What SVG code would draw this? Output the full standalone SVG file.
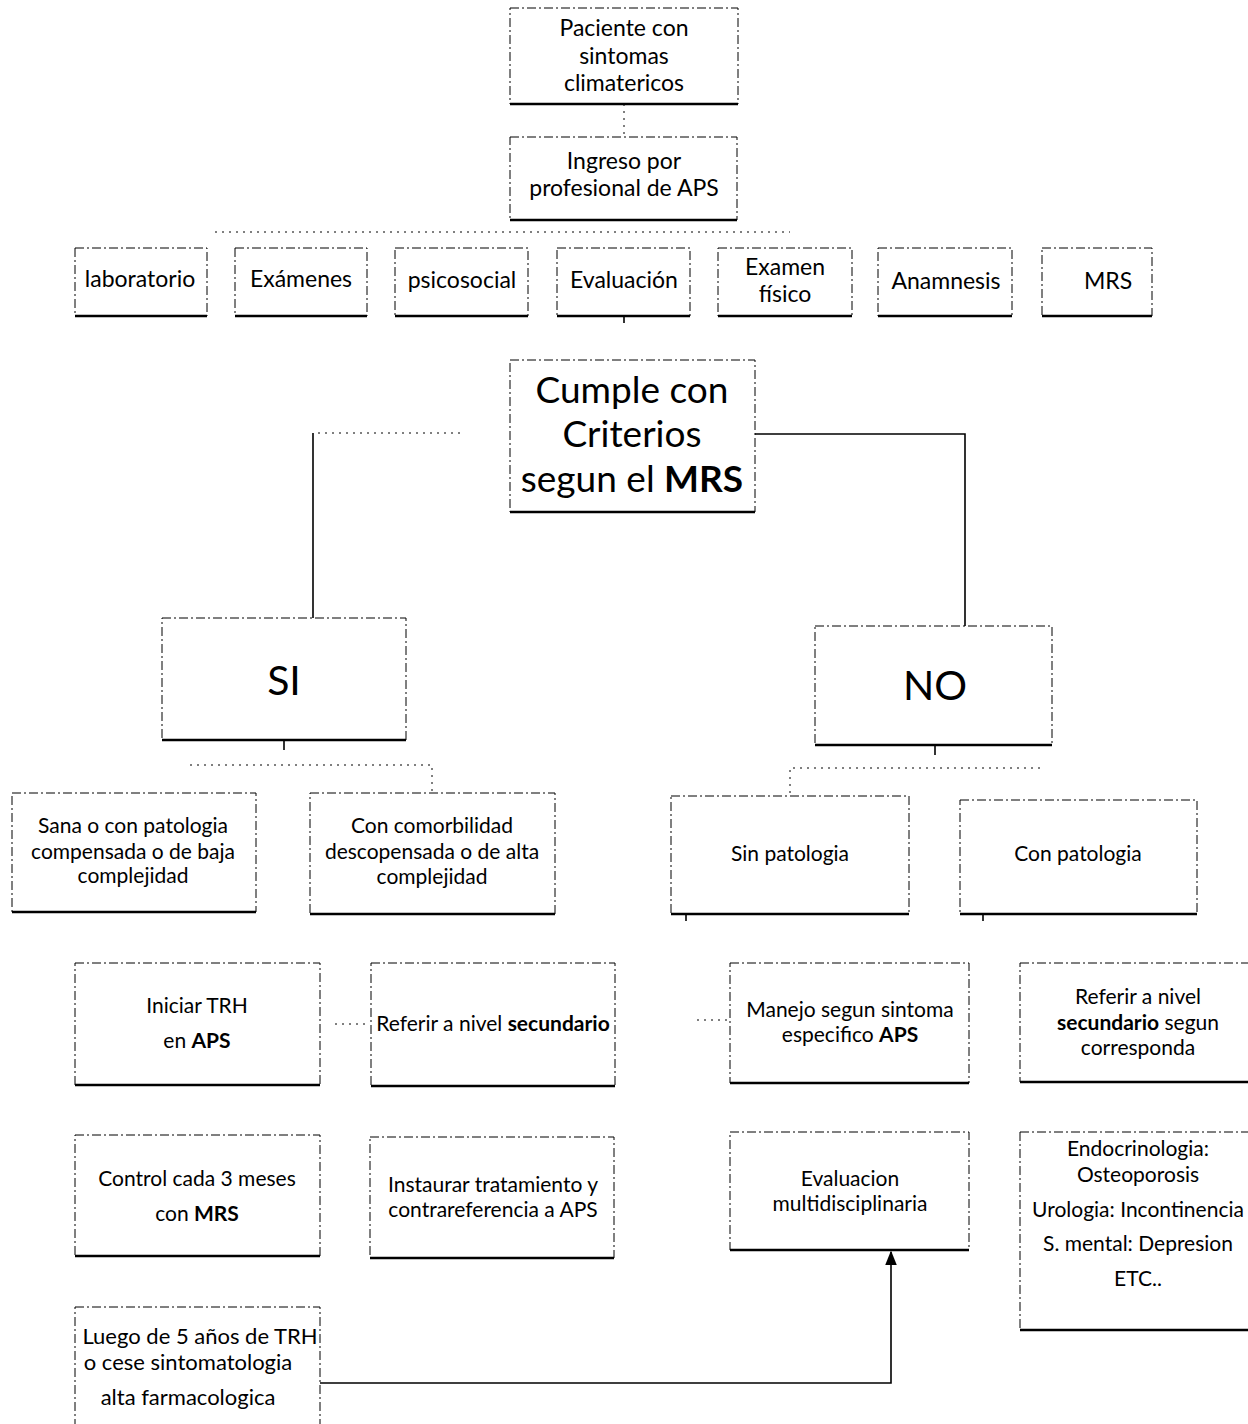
<svg xmlns="http://www.w3.org/2000/svg" width="1248" height="1424" viewBox="0 0 1248 1424">
  <style>
    text { font-family: Lato, "Liberation Sans", sans-serif; fill: #000; text-anchor: middle; }
    .box { fill: #fff; stroke: #000; stroke-width: 1; stroke-dasharray: 9 3 2 3; }
    .base { stroke: #000; stroke-width: 2.5; }
    .t23 { font-size: 23px; }
    .t21 { font-size: 21px; }
    .t20 { font-size: 21px; }
    .t22 { font-size: 22px; }
    .big { font-size: 37px; }
    .huge { font-size: 41px; }
    .b { font-weight: bold; }
    .solid { fill: none; stroke: #000; stroke-width: 1.6; }
    .dots { fill: none; stroke: #000; stroke-width: 1; stroke-dasharray: 2 5; }
  </style>
  <defs>
    <marker id="arrow" viewBox="0 0 10 10" refX="9" refY="5" markerWidth="9" markerHeight="9" orient="auto">
      <path d="M0,1 L10,5 L0,9 Z" fill="#000"/>
    </marker>
  </defs>

  <rect width="1248" height="1424" fill="#fff"/>

  <!-- connectors -->
  <g id="connectors">
    <line class="dots" x1="624" y1="104" x2="624" y2="137"/>
    <line class="dots" x1="215" y1="232" x2="790" y2="232"/>
    <line class="solid" x1="624" y1="316" x2="624" y2="323"/>
    <line class="dots" x1="318" y1="433" x2="460" y2="433"/>
    <path class="solid" d="M313,433 V620"/>
    <path class="solid" d="M755,434 H965 V627"/>
    <line class="solid" x1="284" y1="740" x2="284" y2="750"/>
    <path class="dots" d="M190,765 H432 V793"/>
    <line class="solid" x1="935" y1="745" x2="935" y2="755"/>
    <path class="dots" d="M1040,768 H790 V796"/>
    <line class="solid" x1="686" y1="914" x2="686" y2="921"/>
    <line class="solid" x1="983" y1="914" x2="983" y2="921"/>
    <line class="dots" x1="335" y1="1024" x2="370" y2="1024"/>
    <line class="dots" x1="697" y1="1020" x2="728" y2="1020"/>
    <path class="solid" d="M320,1383 H891 V1252" marker-end="url(#arrow)"/>
  </g>

  <!-- top -->
  <g id="paciente">
    <rect class="box" x="510" y="8" width="228" height="96"/>
    <line class="base" x1="510" y1="104" x2="738" y2="104"/>
    <text class="t23" x="624" y="36">Paciente con</text>
    <text class="t23" x="624" y="64">sintomas</text>
    <text class="t23" x="624" y="91">climatericos</text>
  </g>

  <g id="ingreso">
    <rect class="box" x="510" y="137" width="227" height="83"/>
    <line class="base" x1="510" y1="220" x2="737" y2="220"/>
    <text class="t23" x="624" y="169">Ingreso por</text>
    <text class="t23" x="624" y="196">profesional de APS</text>
  </g>

  <!-- evaluation row -->
  <g id="laboratorio">
    <rect class="box" x="75" y="248" width="132" height="68"/>
    <line class="base" x1="75" y1="316" x2="207" y2="316"/>
    <text class="t23" x="140" y="287">laboratorio</text>
  </g>
  <g id="examenes">
    <rect class="box" x="235" y="248" width="132" height="68"/>
    <line class="base" x1="235" y1="316" x2="367" y2="316"/>
    <text class="t23" x="301" y="287">Exámenes</text>
  </g>
  <g id="psicosocial">
    <rect class="box" x="395" y="248" width="133" height="68"/>
    <line class="base" x1="395" y1="316" x2="528" y2="316"/>
    <text class="t23" x="462" y="288">psicosocial</text>
  </g>
  <g id="evaluacion">
    <rect class="box" x="557" y="248" width="133" height="68"/>
    <line class="base" x1="557" y1="316" x2="690" y2="316"/>
    <text class="t23" x="624" y="288">Evaluación</text>
  </g>
  <g id="examen-fisico">
    <rect class="box" x="718" y="248" width="134" height="68"/>
    <line class="base" x1="718" y1="316" x2="852" y2="316"/>
    <text class="t23" x="785" y="275">Examen</text>
    <text class="t23" x="785" y="302">físico</text>
  </g>
  <g id="anamnesis">
    <rect class="box" x="878" y="248" width="134" height="68"/>
    <line class="base" x1="878" y1="316" x2="1012" y2="316"/>
    <text class="t23" x="946" y="289">Anamnesis</text>
  </g>
  <g id="mrs">
    <rect class="box" x="1042" y="248" width="110" height="68"/>
    <line class="base" x1="1042" y1="316" x2="1152" y2="316"/>
    <text class="t23" x="1108" y="289">MRS</text>
  </g>

  <!-- decision -->
  <g id="criterios">
    <rect class="box" x="510" y="360" width="245" height="152"/>
    <line class="base" x1="510" y1="512" x2="755" y2="512"/>
    <text class="big" x="632" y="403">Cumple con</text>
    <text class="big" x="632" y="447">Criterios</text>
    <text class="big" x="632" y="492">segun el <tspan class="b">MRS</tspan></text>
  </g>

  <g id="si">
    <rect class="box" x="162" y="618" width="244" height="122"/>
    <line class="base" x1="162" y1="740" x2="406" y2="740"/>
    <text class="huge" x="284" y="695">SI</text>
  </g>
  <g id="no">
    <rect class="box" x="815" y="626" width="237" height="119"/>
    <line class="base" x1="815" y1="745" x2="1052" y2="745"/>
    <text class="huge" x="935" y="700">NO</text>
  </g>

  <!-- SI branch -->
  <g id="sana">
    <rect class="box" x="12" y="793" width="244" height="119"/>
    <line class="base" x1="12" y1="912" x2="256" y2="912"/>
    <text class="t21" x="133" y="833">Sana o con patologia</text>
    <text class="t21" x="133" y="859">compensada o de baja</text>
    <text class="t21" x="133" y="883">complejidad</text>
  </g>
  <g id="comorbilidad">
    <rect class="box" x="310" y="793" width="245" height="121"/>
    <line class="base" x1="310" y1="914" x2="555" y2="914"/>
    <text class="t21" x="432" y="833">Con comorbilidad</text>
    <text class="t21" x="432" y="859">descopensada o de alta</text>
    <text class="t21" x="432" y="884">complejidad</text>
  </g>

  <!-- NO branch -->
  <g id="sin-patologia">
    <rect class="box" x="671" y="796" width="238" height="118"/>
    <line class="base" x1="671" y1="914" x2="909" y2="914"/>
    <text class="t21" x="790" y="861">Sin patologia</text>
  </g>
  <g id="con-patologia">
    <rect class="box" x="960" y="800" width="237" height="114"/>
    <line class="base" x1="960" y1="914" x2="1197" y2="914"/>
    <text class="t21" x="1078" y="861">Con patologia</text>
  </g>

  <!-- actions -->
  <g id="iniciar-trh">
    <rect class="box" x="75" y="963" width="245" height="122"/>
    <line class="base" x1="75" y1="1085" x2="320" y2="1085"/>
    <text class="t20" x="197" y="1013">Iniciar TRH</text>
    <text class="t20" x="197" y="1048">en <tspan class="b">APS</tspan></text>
  </g>
  <g id="referir-secundario">
    <rect class="box" x="371" y="963" width="244" height="123"/>
    <line class="base" x1="371" y1="1086" x2="615" y2="1086"/>
    <text class="t20" x="493" y="1031">Referir a nivel <tspan class="b">secundario</tspan></text>
  </g>
  <g id="manejo">
    <rect class="box" x="730" y="963" width="239" height="120"/>
    <line class="base" x1="730" y1="1083" x2="969" y2="1083"/>
    <text class="t20" x="850" y="1017">Manejo segun sintoma</text>
    <text class="t20" x="850" y="1042">especifico <tspan class="b">APS</tspan></text>
  </g>
  <g id="referir-corresponda">
    <rect class="box" x="1020" y="963" width="240" height="119"/>
    <line class="base" x1="1020" y1="1082" x2="1248" y2="1082"/>
    <text class="t20" x="1138" y="1004">Referir a nivel</text>
    <text class="t20" x="1138" y="1030"><tspan class="b">secundario</tspan> segun</text>
    <text class="t20" x="1138" y="1055">corresponda</text>
  </g>

  <g id="control">
    <rect class="box" x="75" y="1135" width="245" height="121"/>
    <line class="base" x1="75" y1="1256" x2="320" y2="1256"/>
    <text class="t20" x="197" y="1186">Control cada 3 meses</text>
    <text class="t20" x="197" y="1221">con  <tspan class="b">MRS</tspan></text>
  </g>
  <g id="instaurar">
    <rect class="box" x="370" y="1137" width="244" height="121"/>
    <line class="base" x1="370" y1="1258" x2="614" y2="1258"/>
    <text class="t20" x="493" y="1192">Instaurar tratamiento y</text>
    <text class="t20" x="493" y="1217">contrareferencia a APS</text>
  </g>
  <g id="multidisciplinaria">
    <rect class="box" x="730" y="1132" width="239" height="118"/>
    <line class="base" x1="730" y1="1250" x2="969" y2="1250"/>
    <text class="t20" x="850" y="1186">Evaluacion</text>
    <text class="t20" x="850" y="1211">multidisciplinaria</text>
  </g>
  <g id="especialidades">
    <rect class="box" x="1020" y="1132" width="240" height="198"/>
    <line class="base" x1="1020" y1="1330" x2="1248" y2="1330"/>
    <text class="t20" x="1138" y="1156">Endocrinologia:</text>
    <text class="t20" x="1138" y="1182">Osteoporosis</text>
    <text class="t20" x="1138" y="1217">Urologia: Incontinencia</text>
    <text class="t20" x="1138" y="1251">S. mental: Depresion</text>
    <text class="t20" x="1138" y="1286">ETC..</text>
  </g>

  <g id="luego">
    <rect class="box" x="75" y="1307" width="245" height="130"/>
    <text class="t22" x="200" y="1344">Luego de 5 años  de TRH</text>
    <text class="t22" x="188" y="1370">o cese sintomatologia</text>
    <text class="t22" x="188" y="1405">alta farmacologica</text>
  </g>
</svg>
